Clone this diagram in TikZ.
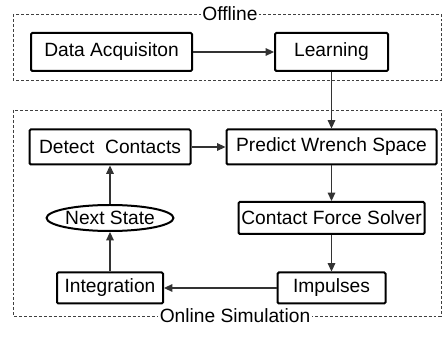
\documentclass[tikz,border=0pt]{standalone}
\usepackage{fontspec}
\setmainfont{Liberation Sans}
\usetikzlibrary{arrows.meta,shapes.geometric}

\begin{document}
\begin{tikzpicture}[x=0.75pt,y=-0.75pt,
  font=\fontsize{14.4}{17}\selectfont, >={Triangle[length=2.2mm,width=2mm]},
  box/.style={draw,line width=1.5pt,rounded corners=1pt,inner sep=1pt,align=center},
  oval/.style={draw,ellipse,line width=1.5pt,inner sep=0pt},
  frame/.style={draw=black!75,dashed,line width=0.6pt,dash pattern=on 2.2pt off 1.5pt},
  lbl/.style={fill=white,inner sep=1pt},
  flow/.style={->,line width=0.9pt,black!80}]
\useasboundingbox (0,0) rectangle (442,341);
% frames
\draw[frame] (13,14) rectangle (441,80);
\draw[frame] (13,110) rectangle (441,316);
\node[lbl] (offl) at (230,14) {Offline};
\node[lbl] (onl) at (235,316) {Online Simulation};
% offline part
\node[box,minimum width=120.75pt,minimum height=28.5pt] (acq) at (111.5,52) {Data Acquisiton};
\node[box,minimum width=84.75pt,minimum height=28.5pt] (learn) at (331.5,52) {Learning};
% online loop
\node[box,minimum width=120.75pt,minimum height=26.25pt] (detect) at (110,147) {Detect\ \ Contacts};
\node[box,minimum width=157.5pt,minimum height=26.25pt] (wrench) at (331.5,147) {Predict Wrench Space};
\node[oval,minimum width=81pt,minimum height=19.5pt] (next) at (110,218) {Next State};
\node[box,minimum width=139.5pt,minimum height=24pt] (solver) at (331.5,218) {Contact Force Solver};
\node[box,minimum width=79.5pt,minimum height=23.25pt] (integ) at (110,288) {Integration};
\node[box,minimum width=81pt,minimum height=23.25pt] (imp) at (331.5,288) {Impulses};
\draw[flow] (acq)--(learn);
\draw[flow] (learn)--(wrench);
\draw[flow] (detect)--(wrench);
\draw[flow] (wrench)--(solver);
\draw[flow] (solver)--(imp);
\draw[flow] (imp)--(integ);
\draw[flow] (integ)--(next);
\draw[flow] (next)--(detect);
\end{tikzpicture}
\end{document}
